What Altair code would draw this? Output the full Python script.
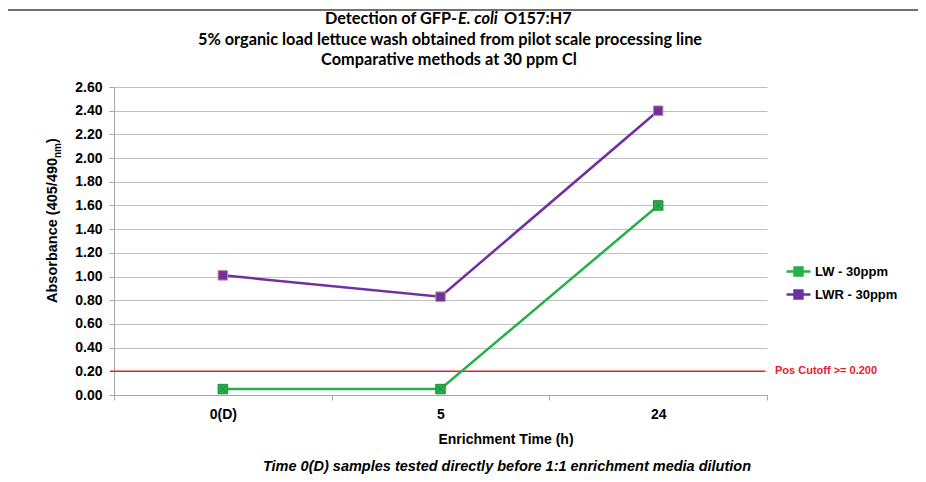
import altair as alt
import pandas as pd

# ---- data ----
times = ["0(D)", "5", "24"]
series_names = ["LW - 30ppm", "LWR - 30ppm"]
lw_values = [0.05, 0.05, 1.60]
lwr_values = [1.01, 0.83, 2.40]
cutoff_value = [0.20]
cutoff_label = ["Pos Cutoff >= 0.200"]
y_ticks = [0.0, 0.2, 0.4, 0.6, 0.8, 1.0, 1.2, 1.4, 1.6, 1.8, 2.0, 2.2, 2.4, 2.6]
title_lines = [
    "5% organic load lettuce wash obtained from pilot scale processing line",
    "Comparative methods at 30 ppm Cl",
]
title_parts = ["Detection of GFP-", "E. coli", "O157:H7"]
x_title = ["Enrichment Time (h)"]
note = ["Time 0(D) samples tested directly before 1:1 enrichment media dilution"]
y_title_parts = ["Absorbance (405/490", "nm", ")"]

series_colors = ["#25b04b", "#7030a0"]
marker_strokes = ["#1a8a3a", "#d08a8a"]
red = "#e8202a"

rows = []
for name, vals in zip(series_names, [lw_values, lwr_values]):
    for t, v in zip(times, vals):
        rows.append({"series": name, "time": t, "value": v})
df = pd.DataFrame(rows)

W, H = 653, 308
FONT = "Liberation Sans"
TFONT = "Lato"

x_enc = alt.X(
    "time:N", sort=times, bandPosition=0.5,
    scale=alt.Scale(type="band", paddingInner=0, paddingOuter=0),
    axis=alt.Axis(title=None, tickBand="extent", labelAngle=0, grid=False,
                  domainColor="#a6a6a6", tickColor="#a6a6a6", tickSize=5,
                  labelFont=FONT, labelFontSize=14, labelFontWeight="bold",
                  labelColor="#000000", labelPadding=7),
)
y_enc = alt.Y(
    "value:Q",
    scale=alt.Scale(domain=[0, 2.6], nice=False, zero=True),
    axis=alt.Axis(title=None, values=y_ticks, format=".2f", grid=True,
                  gridColor="#bfbfbf", gridWidth=1, domainColor="#a6a6a6",
                  tickColor="#a6a6a6", tickSize=5, labelFont=FONT,
                  labelFontSize=14, labelFontWeight="bold", labelOverlap=False,
                  labelColor="#000000", labelPadding=7),
)

sym_path = "M-1,0H1M-0.33,-0.33H0.33V0.33H-0.33Z"
color_scale = alt.Scale(domain=series_names, range=series_colors)

base = alt.Chart(df)

lines = base.mark_line(strokeWidth=2.5).encode(
    x=x_enc, y=y_enc,
    color=alt.Color(
        "series:N", scale=color_scale,
        legend=alt.Legend(
            title=None, orient="none", legendX=671, legendY=171,
            symbolType=sym_path, symbolSize=576, symbolStrokeWidth=2.5,
            labelFont=FONT, labelFontSize=13, labelFontWeight="bold",
            labelColor="#000000", rowPadding=-2, labelOffset=3,
        ),
    ),
)

squares = base.mark_square(size=90, strokeWidth=1, opacity=1, filled=True).encode(
    x=x_enc, y=y_enc,
    color=alt.Color("series:N", scale=color_scale),
    stroke=alt.Stroke("series:N", scale=alt.Scale(domain=series_names, range=marker_strokes), legend=None),
)

crosses = base.transform_filter(alt.datum.series == series_names[0]).mark_point(
    shape="M-1,-1L1,1M1,-1L-1,1", size=36, stroke="#137a33", strokeWidth=1, filled=False
).encode(x=x_enc, y=y_enc)

cut_df = pd.DataFrame({"value": cutoff_value, "label": cutoff_label})
cut_rule = alt.Chart(cut_df).mark_rule(color=red, strokeWidth=1.5).encode(
    y=y_enc, x=alt.value(-4), x2=alt.value(W - 2)
)
cut_text = alt.Chart(cut_df).mark_text(
    align="left", baseline="middle", font=FONT, fontSize=11, fontWeight="bold", color=red
).encode(y=y_enc, x=alt.value(W + 8), text="label:N")


def txt(s, x, y, **kw):
    d = pd.DataFrame({"t": [s]})
    return alt.Chart(d).mark_text(**kw).encode(x=alt.value(x), y=alt.value(y), text="t:N")


TS = 16.3
tkw = dict(font=TFONT, fontSize=TS, fontWeight="bold", color="#000000", baseline="middle")
title1a = txt(title_parts[0], 343, -68, align="right", **tkw)
title1b = txt(title_parts[1], 344, -68, align="left", font=TFONT, fontSize=TS,
              fontWeight="bold", fontStyle="italic", color="#000000", baseline="middle")
title1c = txt(title_parts[2], 390, -68, align="left", **tkw)
title2 = txt(title_lines[0], 336, -47, align="center", **tkw)
title3 = txt(title_lines[1], 335, -27, align="center", **tkw)

xt = txt(x_title[0], 392, 353, align="center", font=FONT, fontSize=14, fontWeight="bold",
         color="#000000", baseline="middle")
nt = txt(note[0], 393, 380, align="center", font=FONT, fontSize=14.5, fontWeight="bold",
         fontStyle="italic", color="#000000", baseline="middle")

ykw = dict(font=FONT, fontWeight="bold", color="#000000", angle=270, align="left", baseline="middle")
yt1 = txt(y_title_parts[0], -61, 216, fontSize=14.5, **ykw)
yt2 = txt(y_title_parts[1], -56, 71, fontSize=10, **ykw)
yt3 = txt(y_title_parts[2], -61, 56, fontSize=14.5, **ykw)

fdf = pd.DataFrame({"a": [0]})
frame_left = alt.Chart(fdf).mark_rule(color="#404040", strokeWidth=1.5).encode(
    x=alt.value(-107), y=alt.value(-77), y2=alt.value(H + 80))
frame_top = alt.Chart(fdf).mark_rule(color="#404040", strokeWidth=1.5).encode(
    x=alt.value(-107), x2=alt.value(W + 160), y=alt.value(-77))

chart = alt.layer(
    cut_rule, lines, squares, crosses, cut_text,
    title1a, title1b, title1c, title2, title3, xt, nt, yt1, yt2, yt3,
    frame_left, frame_top,
).properties(
    width=W, height=H,
    padding={"left": 106, "top": 79, "right": 151, "bottom": 79},
    autosize=alt.AutoSizeParams(type="none"),
).configure_view(stroke=None)

chart.save("out.html", embed_options={"renderer": "svg", "actions": False})
